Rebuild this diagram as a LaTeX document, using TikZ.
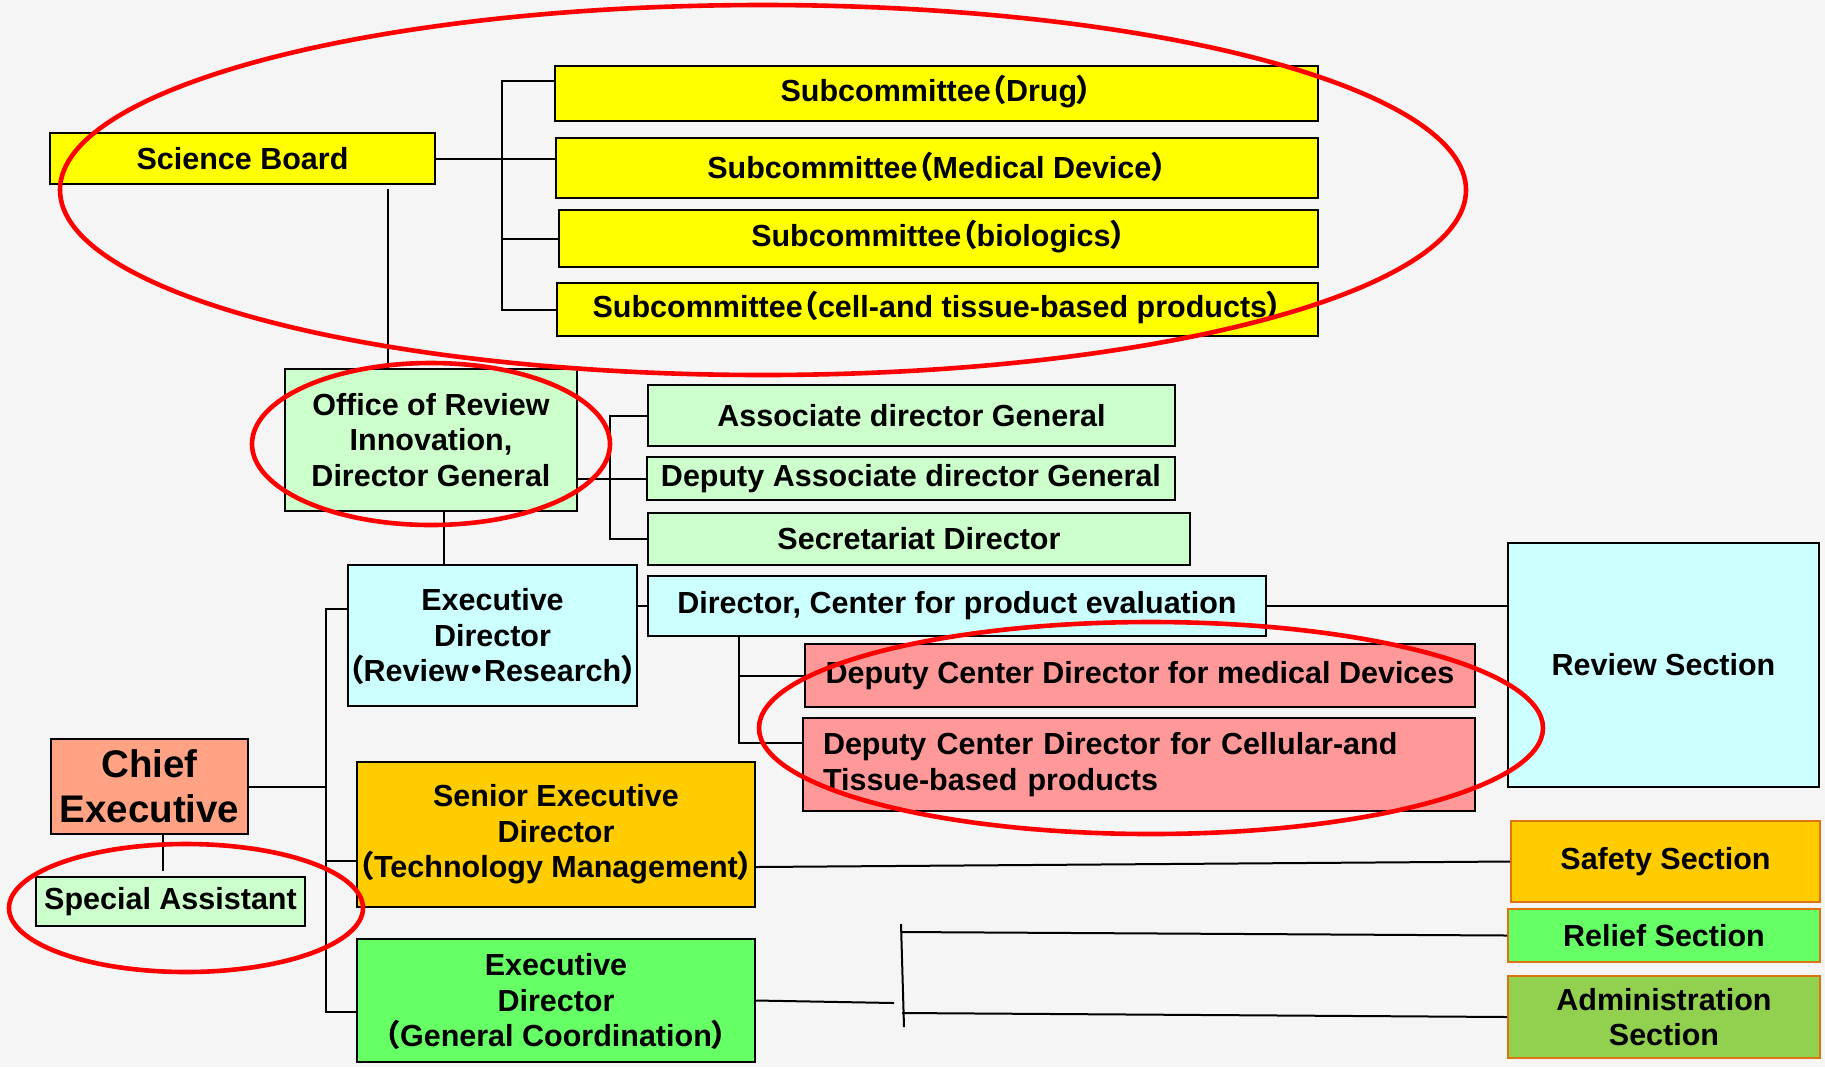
\documentclass[tikz,border=0pt]{standalone}
\usepackage{fontspec}
\setmainfont{Liberation Sans}
\newfontfamily\cjkpar{Noto Sans CJK JP}[RawFeature=+palt]
\usetikzlibrary{calc}
\newcommand{\zlp}{\smash{\cjkpar （}}
\newcommand{\zrp}{\smash{\cjkpar ）}}
\newcommand{\zdt}{\smash{\cjkpar ・}}
\definecolor{cyel}{HTML}{FFFF00}
\definecolor{cgrn}{HTML}{CCFFCC}
\definecolor{ccyn}{HTML}{CCFFFF}
\definecolor{cpnk}{HTML}{FF9999}
\definecolor{csal}{HTML}{FFA384}
\definecolor{cgold}{HTML}{FFCC00}
\definecolor{clim}{HTML}{66FF66}
\definecolor{coli}{HTML}{92D050}
\definecolor{cora}{HTML}{DD7410}
\definecolor{cbg}{HTML}{F5F5F5}
\definecolor{cred}{HTML}{FF0000}
\begin{document}
\begin{tikzpicture}[x=0.5pt,y=-0.5pt,
  box/.style={draw=black, line width=1pt, inner sep=0pt, align=center, anchor=center,
    font=\bfseries\fontsize{15.25}{17.75}\selectfont},
  bx/.style args={#1/#2/#3/#4}{minimum width={(#3-#1)*0.5pt}, minimum height={(#4-#2)*0.5pt},
    at={({(#1+#3)/2},{(#2+#4)/2})}},
  conn/.style={line width=1pt},
  ring/.style={draw=cred, line width=2.3pt}]
\fill[cbg] (0,0) rectangle (1825,1067);
\useasboundingbox (0,0) rectangle (1825,1067);
% boxes
\node[box, fill=cyel, bx=50/133/435/184] (sb) {Science Board};
\node[box, fill=cyel, bx=555/66/1318/121] (drug) {Subcommittee\zlp Drug\zrp};
\node[box, fill=cyel, bx=556/138/1318/198] (med) {Subcommittee\zlp Medical Device\zrp};
\node[box, fill=cyel, bx=559/210/1318/267] (bio) {Subcommittee\zlp biologics\zrp};
\node[box, fill=cyel, bx=557/283/1318/336] (cell) {Subcommittee\zlp cell-and tissue-based products\zrp};
\node[box, fill=cgrn, bx=285/369/577/511] (off) {Office of Review\\Innovation,\\Director General};
\node[box, fill=cgrn, bx=648/385/1175/446] (adg) {Associate director General};
\node[box, fill=cgrn, bx=647/457/1175/500] (dag) {Deputy Associate director General};
\node[box, fill=cgrn, bx=648/513/1190/565] (sec) {Secretariat Director};
\node[box, fill=ccyn, bx=648/576/1266/636] (dce) {Director, Center for product evaluation};
\node[box, fill=ccyn, bx=350/565/635/706] (erv) {Executive\\Director\\\zlp Review\zdt Research\zrp};
\node[box, fill=cpnk, bx=805/644/1475/707] (dmd) {Deputy Center Director for medical Devices};
\node[box, fill=cpnk, bx=803/718/1475/811, text width=316pt, align=left] (dcl) {Deputy Center Director for Cellular-and\\Tissue-based products};
\node[box, fill=ccyn, bx=1508/543/1819/787] (rev) {Review Section};
\node[box, fill=csal, bx=51/739/248/834, font=\bfseries\fontsize{19.25}{22.5}\selectfont] (chief) {Chief\\Executive};
\node[box, fill=cgrn, bx=36/877/305/926] (spa) {Special Assistant};
\node[box, fill=cgold, bx=357/762/755/907] (sen) {Senior Executive\\Director\\\zlp Technology Management\zrp};
\node[box, fill=clim, bx=357/939/755/1062] (egc) {Executive\\Director\\\zlp General Coordination\zrp};
\node[box, fill=cgold, draw=cora, bx=1511/821/1820/902] (saf) {Safety Section};
\node[box, fill=clim, draw=cora, bx=1508/909/1820/962] (rel) {Relief Section};
\node[box, fill=coli, draw=cora, bx=1508/976/1820/1058] (adm) {Administration\\Section};
% helper coordinates
\coordinate (bt) at (502,81);
\coordinate (sbo) at (388,189);
\coordinate (ob) at (610,0);
\coordinate (oe) at (444,0);
\coordinate (dd) at (739,0);
\coordinate (dcb) at (739,743);
\coordinate (tt) at (326,609);
\coordinate (ts) at (326,861);
\coordinate (tb) at (326,1012);
\coordinate (cs) at (163,871);
\coordinate (jt) at (901,924);
\coordinate (jb) at (904,1027);
\coordinate (jm) at (894,1003);
\coordinate (jr) at (901,932);
\coordinate (ja) at (902,1013);
% connectors
\draw[conn] (sb.east) -- (sb.east -| med.west);
\draw[conn] (drug.west |- bt) -- (bt) |- (cell.west);
\draw[conn] (bt |- bio.west) -- (bio.west);
\draw[conn] (sbo) -- (sbo |- off.north);
\draw[conn] (off.east |- dag.west) -- (dag.west);
\draw[conn] (adg.west) -- (adg.west -| ob) -- (sec.west -| ob) -- (sec.west);
\draw[conn] (oe |- off.south) -- (oe |- erv.north);
\draw[conn] (erv.east |- dce.west) -- (dce.west);
\draw[conn] (dce.east) -- (dce.east -| rev.west);
\draw[conn] (dd |- dce.south) |- (dmd.west);
\draw[conn] (dd |- dmd.west) -- (dcb) -- (dcb -| dcl.west);
\draw[conn] (tt -| erv.west) -- (tt) -- (tb) -- (tb -| egc.west);
\draw[conn] (chief.east) -- (chief.east -| tt);
\draw[conn] (ts) -- (ts -| sen.west);
\draw[conn] (cs |- chief.south) -- (cs);
\draw[conn] ($(sen.east)+(0,32.5)$) -- (saf.west);
\draw[conn] (jt) -- (jb);
\draw[conn] (egc.east) -- (jm);
\draw[conn] (jr) -- (rel.west);
\draw[conn] (ja) -- (adm.west);
% red rings
\draw[ring] (763,190) ellipse [x radius=351.5pt, y radius=92.5pt];
\draw[ring] (431,444) ellipse [x radius=89.5pt, y radius=40.5pt];
\draw[ring] (1151,728) ellipse [x radius=196pt, y radius=53pt];
\draw[ring] (186,908) ellipse [x radius=88.5pt, y radius=32pt];
\end{tikzpicture}
\end{document}
